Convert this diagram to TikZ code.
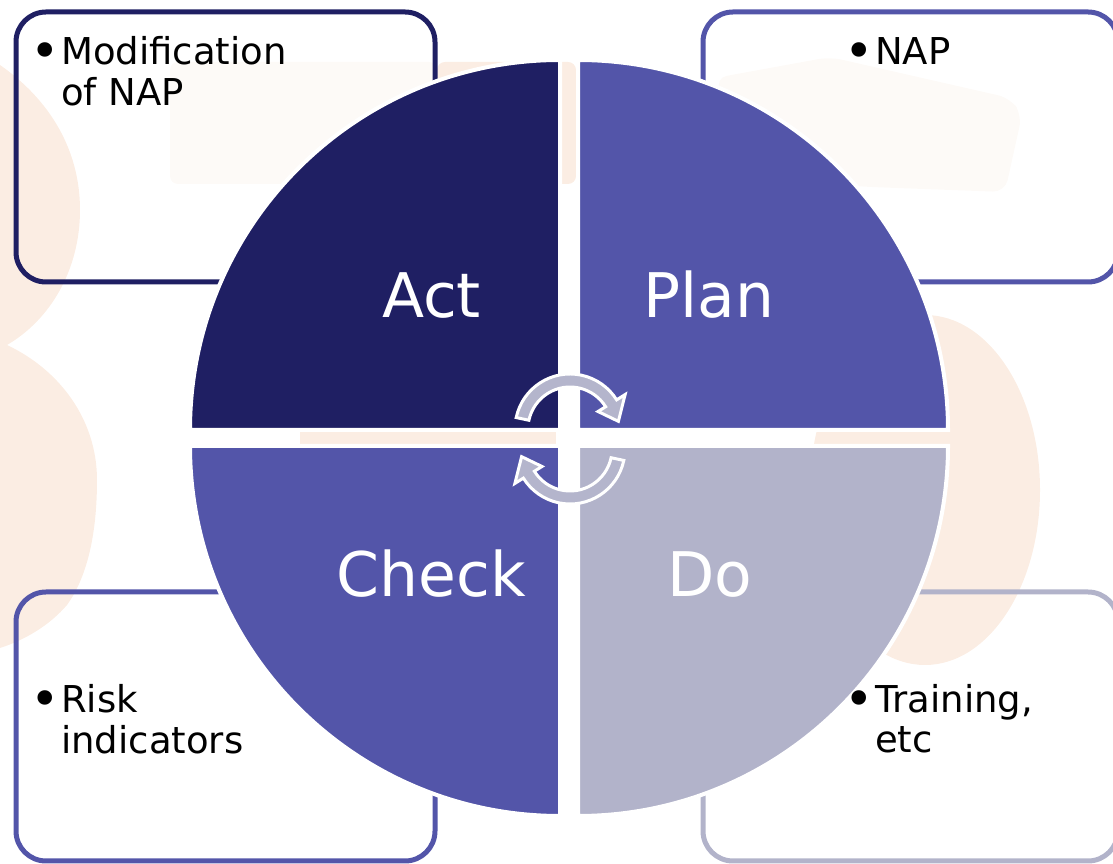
\documentclass[tikz,border=0pt]{standalone}
\usepackage{fontspec}
\usepackage{graphicx}
\setmainfont{DejaVu Sans}
\definecolor{navyc}{HTML}{1F1F63}
\definecolor{planc}{HTML}{5355A9}
\definecolor{doc}{HTML}{B2B3CA}
\definecolor{arrowc}{HTML}{B4B5CC}
\definecolor{peach}{HTML}{FBEDE3}
\definecolor{faint}{HTML}{FDFAF7}
\newcommand\bigbul{\makebox[24pt][l]{\hspace*{-6.5pt}\raisebox{-4pt}{\scalebox{1.35}{\textbullet}}}}
\begin{document}
\begin{tikzpicture}[x=1pt,y=1pt,
  infobox/.style={draw=#1, line width=5, rounded corners=30},
  pie/.style={fill=#1, draw=white, line width=4, line join=miter},
  cyc/.style={fill=arrowc, draw=white, line width=3, line join=miter},
  bigtext/.style={anchor=base, inner sep=0pt, text=white, font=\fontsize{61.5}{66}\selectfont},
  bultext/.style={anchor=base west, inner sep=0pt, text=black, font=\fontsize{37}{40}\selectfont}]
\useasboundingbox (0,0) rectangle (1113,864);
% faint watermark
\fill[peach] (0,799) .. controls (50,764) and (80,714) .. (80,654)
  .. controls (80,594) and (50,544) .. (7,519)
  .. controls (60,494) and (97,444) .. (97,384)
  .. controls (97,324) and (85,284) .. (67,259)
  .. controls (50,239) and (25,224) .. (0,216) -- cycle;
\fill[peach] (925,374) ellipse[x radius=115, y radius=175];
\fill[faint, rounded corners=8] (170,680) rectangle (437,802);
\fill[peach, rounded corners=8] (437,680) rectangle (576,802);
\fill[faint, rounded corners=12] (715,786) -- (830,807) -- (1010,766) -- (1022,749) -- (1005,672) -- (870,677) -- (760,684) -- cycle;
\fill[peach] (300,418) rectangle (556,434);
\fill[peach] (868,418) rectangle (942,434);
% boxes
\draw[infobox=navyc] (16,582) rectangle (435,852);
\draw[infobox=planc] (703,582) rectangle (1118,852);
\draw[infobox=planc] (16,3) rectangle (435,272);
\draw[infobox=doc] (703,3) rectangle (1118,272);
% pies
\path[pie=navyc] (560,434) -- (560,804) arc[start angle=90, end angle=180, radius=370] -- cycle;
\path[pie=planc] (578,434) -- (948,434) arc[start angle=0, end angle=90, radius=370] -- cycle;
\path[pie=planc] (560,418) -- (190,418) arc[start angle=180, end angle=270, radius=370] -- cycle;
\path[pie=doc] (578,418) -- (578,48) arc[start angle=270, end angle=360, radius=370] -- cycle;
% labels
\node[bigtext] (act) at (431.5,546) {Act};
\node[bigtext] (plan) at (709,546) {Plan};
\node[bigtext] (check) at (431.5,267) {Check};
\node[bigtext] (do) at (710,267) {Do};
% cycle arrows
\path[cyc, shift={(570,435)}] (168:55) arc[start angle=168, end angle=32, radius=55]
  -- (32:65) -- (9:49) -- (32:33) -- (32:42) arc[start angle=32, end angle=168, radius=42] -- cycle;
\path[cyc, shift={(570,415)}, rotate=180] (168:55) arc[start angle=168, end angle=32, radius=55]
  -- (32:65) -- (9:49) -- (32:33) -- (32:42) arc[start angle=32, end angle=168, radius=42] -- cycle;
% bullet texts
\node[bultext] (tl) at (37,799) {\begin{tabular}[t]{@{}l@{}l@{}}\bigbul & Modification\\ & of NAP\end{tabular}};
\node[bultext] (tr) at (851,799) {\begin{tabular}[t]{@{}l@{}l@{}}\bigbul & NAP\end{tabular}};
\node[bultext] (bl) at (37,151) {\begin{tabular}[t]{@{}l@{}l@{}}\bigbul & Risk\\ & indicators\end{tabular}};
\node[bultext] (br) at (851,151) {\begin{tabular}[t]{@{}l@{}l@{}}\bigbul & Training,\\ & etc\end{tabular}};
\end{tikzpicture}
\end{document}
